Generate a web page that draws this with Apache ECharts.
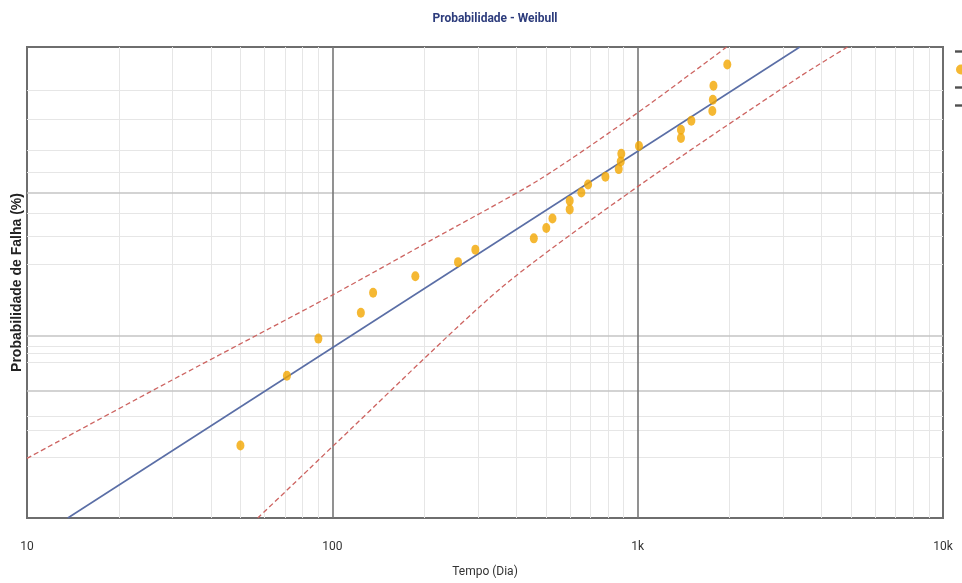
<!DOCTYPE html>
<html>
<head>
<meta charset="utf-8">
<script src="https://cdn.jsdelivr.net/npm/echarts@6/dist/echarts.min.js"></script>
<style>html,body{margin:0;padding:0;background:#fff}#c{width:962px;height:583px}</style>
</head>
<body>
<div id="c"></div>
<script>
// ---- data (time in days, probability of failure in %) ----
const pointTimes = [50, 71, 90, 124, 136, 187, 258, 294, 457, 502, 526, 599, 599, 654, 688, 784, 867, 880, 884, 1010, 1386, 1386, 1499, 1756, 1763, 1771, 1966];
const pointProbs = [2.55, 6.20, 9.85, 13.50, 17.15, 20.80, 24.45, 28.10, 31.75, 35.40, 39.05, 42.70, 46.35, 50.00, 53.65, 57.30, 60.95, 64.60, 68.25, 71.90, 75.55, 79.20, 82.85, 86.50, 90.15, 93.80, 97.45];
const fitTimes = [13.6, 3396];
const fitProbs = [1, 99];
const upperTimes = [10, 31.7, 100, 213, 477, 1000, 1956];
const upperProbs = [2.16, 6.19, 16.7, 31.4, 56.0, 85.9, 99];
const lowerTimes = [57, 84.4, 100, 353, 1000, 3388, 4868];
const lowerProbs = [1, 1.90, 2.51, 17.9, 52.7, 95.6, 99];
const xTickValues = [10, 100, 1000, 10000];
const xTickLabels = ['10', '100', '1k', '10k'];
const xMinorGrid = [20,30,40,50,60,70,80,90,200,300,400,500,600,700,800,900,2000,3000,4000,5000,6000,7000,8000,9000];
const xMajorGrid = [100, 1000];
const yMinorGrid = [2.2, 3.1, 3.7, 7.4, 8.2, 9.0, 23.9, 32.4, 41.3, 59.4, 70.2, 83.6, 92.6];
const yMajorGrid = [5.1, 10.2, 50];
const probMin = 1, probMax = 99;

// Weibull probability scale
const wb = p => Math.log(-Math.log(1 - p / 100));
const pairs = (ts, ps) => ts.map((t, i) => [t, wb(ps[i])]);

const chart = echarts.init(document.getElementById('c'));
const minorStyle = {color: '#e6e6e6', width: 1, type: 'solid'};
const majorStyle = {color: '#c4c4c4', width: 1.6, type: 'solid'};
const vMajorStyle = {color: '#767676', width: 1.6, type: 'solid'};
const narrow = 'Roboto, "Liberation Sans Narrow", sans-serif';
const barIcon = 'path://M0,0L10,0L10,2L0,2Z';

chart.setOption({
  animation: false,
  title: {
    text: 'Probabilidade - Weibull', left: 490, top: 8, textAlign: 'center',
    textStyle: {fontFamily: narrow, fontSize: 12, fontWeight: 'bold', color: '#2d3c7c'}
  },
  legend: {
    orient: 'vertical', left: 950, top: 41, itemGap: 7, itemWidth: 12, itemHeight: 10,
    textStyle: {fontSize: 11, color: '#333'},
    data: [
      {name: 'Ajuste', icon: barIcon, itemStyle: {color: '#505050'}},
      {name: 'Dados', icon: 'circle'},
      {name: 'Limite Superior', icon: barIcon, itemStyle: {color: '#505050'}},
      {name: 'Limite Inferior', icon: barIcon, itemStyle: {color: '#505050'}}
    ]
  },
  grid: {left: 27, right: 19, top: 47, bottom: 63, show: true, borderColor: '#6e6e6e', borderWidth: 2, backgroundColor: '#fff'},
  xAxis: {
    type: 'log', min: 10, max: 10000, logBase: 10,
    axisLine: {show: false}, axisTick: {show: false}, splitLine: {show: false},
    axisLabel: {
      margin: 23, fontSize: 12, color: '#333', fontFamily: narrow,
      formatter: v => { const i = xTickValues.findIndex(x => Math.abs(x - v) / x < 1e-6); return i >= 0 ? xTickLabels[i] : ''; }
    },
    name: 'Tempo (Dia)', nameLocation: 'middle', nameGap: 48,
    nameTextStyle: {fontSize: 12, color: '#333', fontFamily: narrow}
  },
  yAxis: {
    type: 'value', min: wb(probMin), max: wb(probMax),
    axisLine: {show: false}, axisTick: {show: false}, axisLabel: {show: false}, splitLine: {show: false},
    name: 'Probabilidade de Falha (%)', nameLocation: 'middle', nameGap: 3, nameRotate: 90,
    nameTextStyle: {fontSize: 14, fontWeight: 'bold', color: '#222', fontFamily: 'Liberation Sans, Arial, sans-serif'}
  },
  series: [
    {
      name: 'grid', type: 'line', data: [], silent: true, z: 1,
      markLine: {
        silent: true, symbol: 'none', label: {show: false}, animation: false, z: 1,
        data: [
          ...xMinorGrid.map(v => ({xAxis: v, lineStyle: minorStyle})),
          ...yMinorGrid.map(p => ({yAxis: wb(p), lineStyle: minorStyle})),
          ...yMajorGrid.map(p => ({yAxis: wb(p), lineStyle: majorStyle})),
          ...xMajorGrid.map(v => ({xAxis: v, lineStyle: vMajorStyle}))
        ]
      }
    },
    {
      name: 'Ajuste', type: 'line', data: pairs(fitTimes, fitProbs), showSymbol: false, symbol: 'none',
      lineStyle: {color: '#5a6ea6', width: 1.6}, itemStyle: {color: '#5a6ea6'}, z: 6
    },
    {
      name: 'Limite Superior', type: 'line', data: pairs(upperTimes, upperProbs), showSymbol: false, symbol: 'none', smooth: 0.25,
      lineStyle: {color: '#cd6461', width: 1.3, type: [5, 3]}, itemStyle: {color: '#cd6461'}, z: 6
    },
    {
      name: 'Limite Inferior', type: 'line', data: pairs(lowerTimes, lowerProbs), showSymbol: false, symbol: 'none', smooth: 0.25,
      lineStyle: {color: '#cd6461', width: 1.3, type: [5, 3]}, itemStyle: {color: '#cd6461'}, z: 6
    },
    {
      name: 'Dados', type: 'scatter', data: pairs(pointTimes, pointProbs), symbol: 'circle', symbolSize: [8, 10],
      itemStyle: {color: '#f2a600'}, z: 8
    }
  ]
});
</script>
</body>
</html>
